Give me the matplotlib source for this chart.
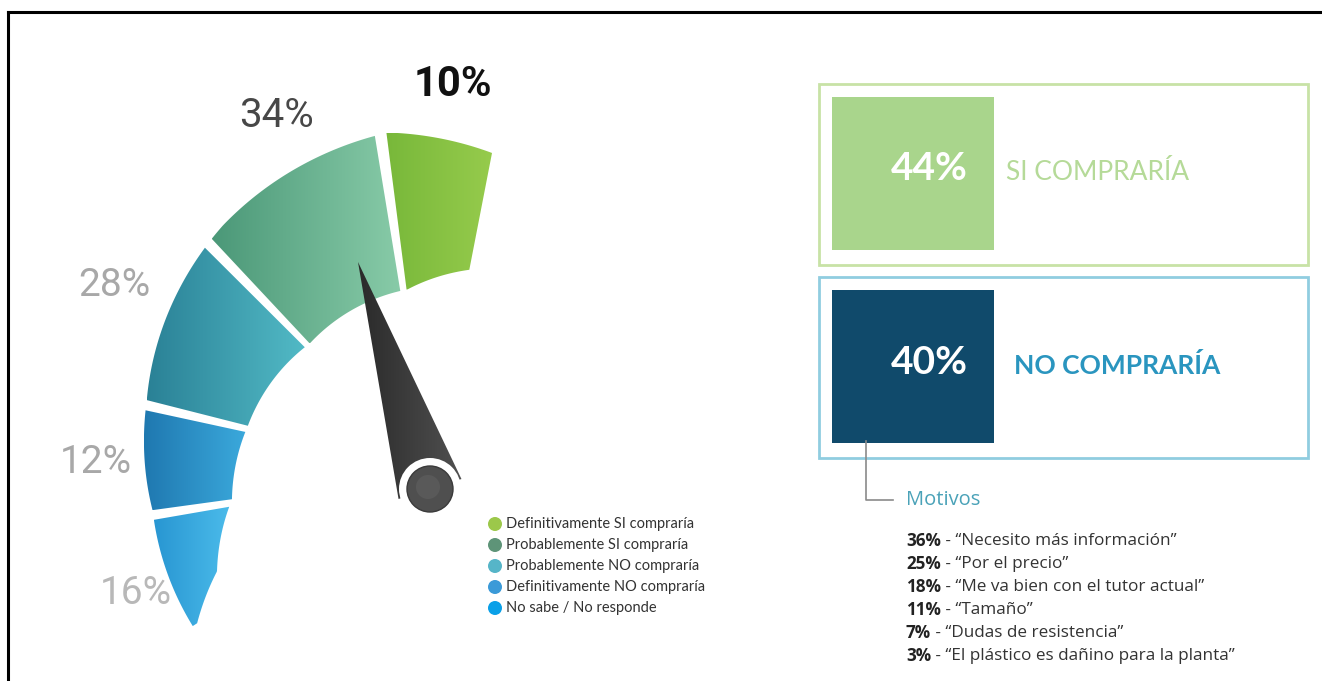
import numpy as np
import matplotlib
matplotlib.use("Agg")
import matplotlib.pyplot as plt
from matplotlib.patches import Polygon, Circle, Rectangle
from matplotlib.colors import LinearSegmentedColormap

# data
gauge_labels = ["Definitivamente SI compraría", "Probablemente SI compraría",
                "Probablemente NO compraría", "Definitivamente NO compraría",
                "No sabe / No responde"]
gauge_values = [10, 34, 28, 12, 16]
summary_labels = ["SI COMPRARÍA", "NO COMPRARÍA"]
summary_values = [44, 40]
reason_values = [36, 25, 18, 11, 7, 3]
reason_texts = ["“Necesito más información”", "“Por el precio”",
                "“Me va bien con el tutor actual”", "“Tamaño”",
                "“Dudas de resistencia”", "“El plástico es dañino para la planta”"]

# styles
seg_left = ["#78b83a", "#4b9878", "#2a8196", "#1f78b0", "#2896d2"]
seg_right = ["#96cb4c", "#88cba8", "#52bac6", "#3ba9dc", "#4bbbea"]
legend_colors = ["#9cc84a", "#5e9478", "#56b5c8", "#3b9ad8", "#0aa0e8"]
label_colors = ["#111111", "#474747", "#a8a8a8", "#a8a8a8", "#b8b8b8"]
label_weights = ["bold", "normal", "normal", "normal", "normal"]
label_sizes = [30, 29, 28, 28, 28]
label_pad = [55, 58, 62, 49, 37]
label_da = [-1.5, -3.0, -1.0, 0.5, 1.0]

W, H = 1322, 681
fig = plt.figure(figsize=(W / 100, H / 100), dpi=100)
ax = fig.add_axes([0, 0, 1, 1])


def grad_fill(xy, c1, c2, z=2):
    patch = Polygon(xy, closed=True, facecolor="none", edgecolor="none")
    ax.add_patch(patch)
    x0, y0 = xy.min(axis=0)
    x1, y1 = xy.max(axis=0)
    cmap = LinearSegmentedColormap.from_list("g", [c1, c2])
    grad = np.linspace(0, 1, 256).reshape(1, -1)
    im = ax.imshow(grad, cmap=cmap, extent=(x0, x1, y1, y0), aspect="auto",
                   interpolation="bicubic", zorder=z)
    im.set_clip_path(patch)


# gauge geometry
cx, cy = 430, 472
start_ang, end_ang, gap = 79.0, 213.0, 2.0
out_a = [79, 97, 130, 166, 188, 214]
out_r = [325, 342, 322, 292, 280, 283]
in_a = [79, 97, 133, 166, 188, 205, 214]
in_r = [206, 184, 176, 188, 200, 235, 283]

roots = np.sqrt(gauge_values)
sweep = end_ang - start_ang - gap * (len(gauge_values) - 1)
spans = sweep * roots / roots.sum()

a = start_ang
for i, v in enumerate(gauge_values):
    a0, a1 = a, a + spans[i]
    t = np.linspace(a0, a1, 80)
    ro = np.interp(t, out_a, out_r)
    ri = np.interp(t, in_a, in_r)
    rad = np.radians(t)
    outer = np.column_stack([cx + ro * np.cos(rad), cy - ro * np.sin(rad)])
    inner = np.column_stack([cx + ri * np.cos(rad), cy - ri * np.sin(rad)])
    xy = np.vstack([outer, inner[::-1]])
    grad_fill(xy, seg_left[i], seg_right[i])

    mid = (a0 + a1) / 2
    rl = np.interp(mid, out_a, out_r) + label_pad[i]
    la = np.radians(mid + label_da[i])
    ax.text(cx + rl * np.cos(la), cy - rl * np.sin(la),
            f"{v}%", ha="center", va="center", fontsize=label_sizes[i],
            color=label_colors[i], fontweight=label_weights[i], family="Roboto")
    a = a1 + gap

# needle
hx, hy = 430, 489
tip = np.array([358, 262])
d = tip - np.array([hx, hy])
perp = np.array([-d[1], d[0]]) / np.hypot(*d)
needle = np.array([tip, [hx, hy] + 33 * perp, [hx, hy] - 33 * perp])
grad_fill(needle, "#2a2a2a", "#505050", z=3)
ax.add_patch(Circle((hx, hy), 31, facecolor="white", edgecolor="none", zorder=4))
ax.add_patch(Circle((hx, hy), 23, facecolor="#4f4f4f", edgecolor="#3a3a3a",
                    lw=1, zorder=5))
ax.add_patch(Circle((hx - 2, hy - 2), 12, facecolor="#5e5e5e", edgecolor="none",
                    zorder=5, alpha=0.7))

# legend
for i, lab in enumerate(gauge_labels):
    yy = 524 + 21 * i
    ax.add_patch(Circle((495, yy), 7, facecolor=legend_colors[i],
                        edgecolor="none", zorder=3))
    ax.text(506, yy, lab, ha="left", va="center", fontsize=10.5,
            color="#333333", family="Lato")

# summary boxes
box_y = [84, 277]
box_edge = ["#c8e2a6", "#90cde0"]
sq_color = ["#a9d58c", "#104a6b"]
txt_color = ["#b5da98", "#2a95bf"]
txt_weight = ["normal", "bold"]
for i, (lab, v) in enumerate(zip(summary_labels, summary_values)):
    y0 = box_y[i]
    ax.add_patch(Rectangle((819, y0), 489, 181, facecolor="none",
                           edgecolor=box_edge[i], lw=2, zorder=2))
    ax.add_patch(Rectangle((832, y0 + 13), 162, 153, facecolor=sq_color[i],
                           edgecolor="none", zorder=2))
    ax.text(929, y0 + 85, f"{v}%", ha="center", va="center", fontsize=28,
            color="white", fontweight="bold", family="Lato", zorder=3)
    ax.text(1006 + 8 * i, y0 + 88, lab, ha="left", va="center", fontsize=19,
            color=txt_color[i], fontweight=txt_weight[i], family="Lato", zorder=3)

# motivos
ax.plot([866, 866, 893], [441, 500, 500], color="#8a8a8a", lw=1.2)
ax.text(906, 500, "Motivos", ha="left", va="center", fontsize=14.5,
        color="#4aa2b8", family="Open Sans")
for i, (v, txt) in enumerate(zip(reason_values, reason_texts)):
    yy = 541 + 23 * i
    t = ax.text(906, yy, f"{v}%", ha="left", va="center", fontsize=12.3,
                fontweight="bold", color="#222222", family="Open Sans")
    ax.annotate(f" - {txt}", xy=(1, 0.5), xycoords=t, ha="left", va="center",
                fontsize=12.3, color="#333333", family="Open Sans")

# frame
ax.plot([8, W], [12, 12], color="black", lw=2.2)
ax.plot([8, 8], [12, H], color="black", lw=2.2)

ax.set_xlim(0, W)
ax.set_ylim(H, 0)
ax.axis("off")
fig.savefig("out.png", dpi=100, facecolor="white")
